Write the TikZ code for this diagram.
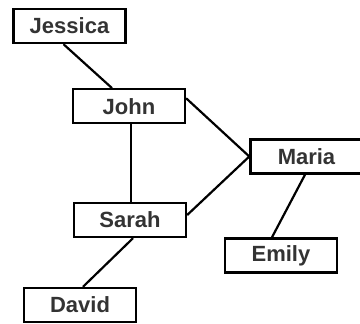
\documentclass[tikz,border=0pt]{standalone}
\usepackage{fontspec}
\setmainfont{Liberation Sans}

\tikzset{
  pessoa/.style={draw, line width=2.4pt, minimum width=112pt, minimum height=34pt,
    inner sep=0pt, font=\fontsize{22}{26}\selectfont\bfseries, text=black!80},
  ligacao/.style={line width=2.2pt}
}

\begin{document}
\begin{tikzpicture}[x=1pt,y=-1pt]
\useasboundingbox (0,0) rectangle (360,324);

% Caixas
\node[pessoa] (jessica) at (69.5,26) {Jessica};
\node[pessoa] (john) at (129,106.3) {John};
\node[pessoa] (maria) at (306.5,156.5) {Maria};
\node[pessoa] (sarah) at (130,220) {Sarah};
\node[pessoa] (emily) at (281,255.5) {Emily};
\node[pessoa] (david) at (80,305) {David};

% Ligações
\draw[ligacao] ([xshift=-6pt]jessica.south) -- ([xshift=-17pt]john.north);
\draw[ligacao] ([xshift=2pt]john.south) -- ([xshift=1pt]sarah.north);
\draw[ligacao] ([yshift=8pt]john.east) -- (maria.west);
\draw[ligacao] ([yshift=5pt]sarah.east) -- (maria.west);
\draw[ligacao] ([xshift=-1.5pt]maria.south) -- ([xshift=-9pt]emily.north);
\draw[ligacao] ([xshift=3pt]sarah.south) -- ([xshift=3pt]david.north);

\end{tikzpicture}
\end{document}
